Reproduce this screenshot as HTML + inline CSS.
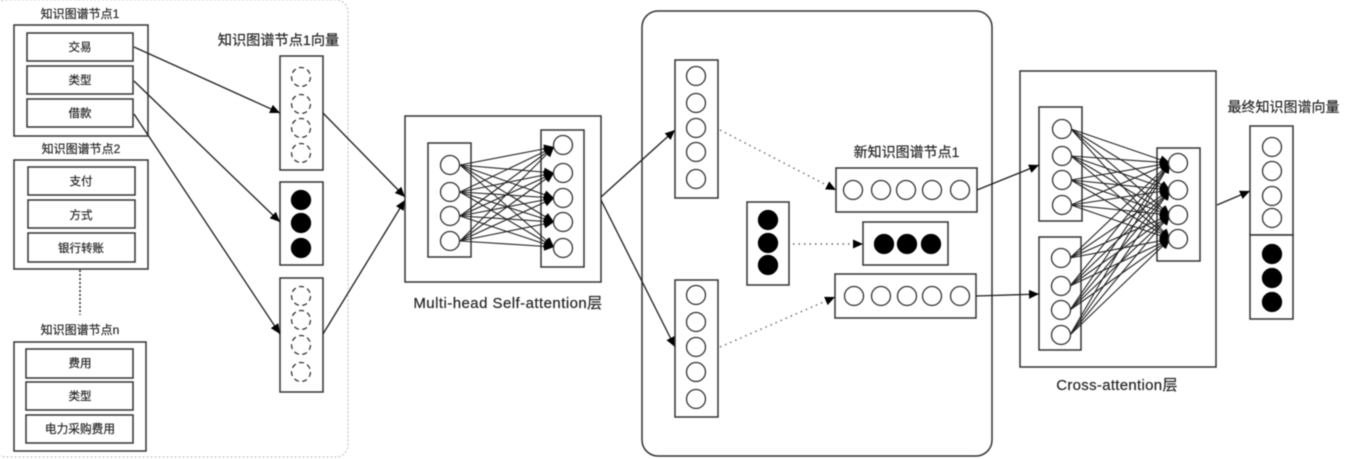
<!DOCTYPE html>
<html><head><meta charset="utf-8">
<style>
html,body{margin:0;padding:0;background:#fff;width:1347px;height:459px;overflow:hidden}
svg{display:block;filter:blur(.45px)}
text{font-family:"Liberation Sans","Noto Sans CJK SC",sans-serif;fill:#222;stroke:#333;stroke-width:.2;text-anchor:middle}
rect{fill:#fff;stroke:#333;stroke-width:1.5}
circle{fill:#fff;stroke:#333;stroke-width:1.3}
.d{stroke-dasharray:5 3.5}
.k{fill:#000;stroke:#000}
line{stroke:#222;stroke-width:1.35;marker-end:url(#a)}
.f line{stroke-width:1.1}
line.p{stroke:#666;stroke-dasharray:1.5 4;stroke-width:1.4}
</style></head><body>
<svg width="1347" height="459" viewBox="0 0 1347 459" xmlns="http://www.w3.org/2000/svg">
<defs><marker id="a" markerUnits="userSpaceOnUse" markerWidth="11" markerHeight="10" refX="10" refY="4.5" orient="auto"><path d="M0 0L10 4.5L0 9Z" fill="#000"/></marker></defs>

<rect x="-6" y="0" width="354" height="457" rx="12" style="stroke:#bbb;stroke-dasharray:2 2;stroke-width:1"/>
<rect x="642" y="11" width="350" height="445" rx="16"/>

<text x="80" y="18" font-size="12">知识图谱节点1</text>
<rect x="14" y="25" width="134" height="111"/>
<rect x="27" y="33" width="106" height="28"/><text x="80" y="51" font-size="11.5">交易</text>
<rect x="27" y="66" width="106" height="28"/><text x="80" y="84" font-size="11.5">类型</text>
<rect x="27" y="99" width="106" height="28"/><text x="80" y="117" font-size="11.5">借款</text>

<text x="81" y="153" font-size="12">知识图谱节点2</text>
<rect x="14" y="160" width="134" height="109"/>
<rect x="28" y="167" width="107" height="28"/><text x="81" y="185" font-size="11.5">支付</text>
<rect x="28" y="200" width="107" height="28"/><text x="81" y="219" font-size="11.5">方式</text>
<rect x="28" y="233" width="107" height="29"/><text x="81" y="252" font-size="11.5">银行转账</text>
<path d="M80 270V315" stroke="#333" stroke-width="1.6" stroke-dasharray="2 2" fill="none"/>

<text x="80" y="334" font-size="12">知识图谱节点n</text>
<rect x="14" y="342" width="132" height="109"/>
<rect x="26" y="349" width="107" height="29"/><text x="80" y="367" font-size="11.5">费用</text>
<rect x="26" y="382" width="107" height="28"/><text x="80" y="400" font-size="11.5">类型</text>
<rect x="26" y="415" width="107" height="28"/><text x="80" y="433" font-size="11.7">电力采购费用</text>

<text x="278.5" y="45" font-size="14.2">知识图谱节点1向量</text>
<rect x="280" y="56" width="43" height="114"/>
<circle class="d" cx="301" cy="77" r="9.5"/><circle class="d" cx="301" cy="104" r="9.5"/><circle class="d" cx="301" cy="128" r="9.5"/><circle class="d" cx="301" cy="153" r="9.5"/>
<rect x="280" y="182" width="43" height="83"/>
<circle class="k" cx="301" cy="200" r="9.5"/><circle class="k" cx="301" cy="223" r="9.5"/><circle class="k" cx="301" cy="248" r="9.5"/>
<rect x="280" y="278" width="43" height="114"/>
<circle class="d" cx="301" cy="296" r="9.5"/><circle class="d" cx="301" cy="320" r="9.5"/><circle class="d" cx="301" cy="345" r="9.5"/><circle class="d" cx="301" cy="372" r="9.5"/>

<line x1="134" y1="47" x2="280" y2="113"/>
<line x1="134" y1="81" x2="280" y2="222"/>
<line x1="134" y1="114" x2="280" y2="334"/>
<line x1="323" y1="113" x2="405" y2="197"/>
<line x1="323" y1="334" x2="405" y2="200"/>

<rect x="405" y="116" width="196" height="166"/>
<rect x="428" y="143" width="43" height="114"/>
<rect x="541" y="130" width="43" height="137"/>
<g class="f">
<line x1="460" y1="165" x2="554" y2="147"/><line x1="460" y1="165" x2="554" y2="173"/><line x1="460" y1="165" x2="554" y2="198"/><line x1="460" y1="165" x2="554" y2="222"/><line x1="460" y1="165" x2="554" y2="247"/>
<line x1="460" y1="192" x2="554" y2="147"/><line x1="460" y1="192" x2="554" y2="173"/><line x1="460" y1="192" x2="554" y2="198"/><line x1="460" y1="192" x2="554" y2="222"/><line x1="460" y1="192" x2="554" y2="247"/>
<line x1="460" y1="216" x2="554" y2="147"/><line x1="460" y1="216" x2="554" y2="173"/><line x1="460" y1="216" x2="554" y2="198"/><line x1="460" y1="216" x2="554" y2="222"/><line x1="460" y1="216" x2="554" y2="247"/>
<line x1="460" y1="241" x2="554" y2="147"/><line x1="460" y1="241" x2="554" y2="173"/><line x1="460" y1="241" x2="554" y2="198"/><line x1="460" y1="241" x2="554" y2="222"/><line x1="460" y1="241" x2="554" y2="247"/>
</g>
<circle cx="450" cy="165" r="9.5"/><circle cx="450" cy="192" r="9.5"/><circle cx="450" cy="216" r="9.5"/><circle cx="450" cy="241" r="9.5"/>
<circle cx="563" cy="145" r="9.5"/><circle cx="563" cy="173" r="9.5"/><circle cx="563" cy="198" r="9.5"/><circle cx="563" cy="222" r="9.5"/><circle cx="563" cy="248" r="9.5"/>
<text x="508" y="308" font-size="15" letter-spacing=".45">Multi-head Self-attention层</text>

<line x1="601" y1="197" x2="675" y2="130"/>
<line x1="601" y1="200" x2="675" y2="347"/>

<rect x="675" y="60" width="43" height="138"/>
<circle cx="696" cy="76" r="9.5"/><circle cx="696" cy="103" r="9.5"/><circle cx="696" cy="128" r="9.5"/><circle cx="696" cy="152" r="9.5"/><circle cx="696" cy="179" r="9.5"/>
<rect x="675" y="280" width="43" height="137"/>
<circle cx="696" cy="295" r="9.5"/><circle cx="696" cy="322" r="9.5"/><circle cx="696" cy="347" r="9.5"/><circle cx="696" cy="372" r="9.5"/><circle cx="696" cy="399" r="9.5"/>
<rect x="747" y="202" width="42" height="83"/>
<circle class="k" cx="768" cy="220" r="9.5"/><circle class="k" cx="768" cy="243" r="9.5"/><circle class="k" cx="768" cy="265" r="9.5"/>

<text x="906.5" y="157" font-size="14">新知识图谱节点1</text>
<rect x="836" y="168" width="141" height="44"/>
<circle cx="853" cy="190" r="9.5"/><circle cx="881" cy="190" r="9.5"/><circle cx="906" cy="190" r="9.5"/><circle cx="932" cy="190" r="9.5"/><circle cx="960" cy="190" r="9.5"/>
<rect x="863" y="222" width="85" height="43"/>
<circle class="k" cx="884" cy="244" r="9.5"/><circle class="k" cx="907" cy="244" r="9.5"/><circle class="k" cx="931" cy="244" r="9.5"/>
<rect x="835" y="274" width="141" height="44"/>
<circle cx="854" cy="296" r="9.5"/><circle cx="881" cy="296" r="9.5"/><circle cx="907" cy="296" r="9.5"/><circle cx="932" cy="296" r="9.5"/><circle cx="960" cy="296" r="9.5"/>

<line class="p" x1="720" y1="130" x2="836" y2="190"/>
<line class="p" x1="720" y1="347" x2="835" y2="297"/>
<line class="p" x1="793" y1="244" x2="863" y2="244"/>

<rect x="1020" y="71" width="196" height="296"/>
<rect x="1039" y="107" width="43" height="114"/>
<rect x="1039" y="237" width="42" height="113"/>
<rect x="1157" y="148" width="43" height="113"/>
<line x1="977" y1="190" x2="1039" y2="165"/>
<line x1="976" y1="296" x2="1039" y2="294"/>
<g class="f">
<line x1="1071" y1="129" x2="1170" y2="163"/><line x1="1071" y1="129" x2="1170" y2="190"/><line x1="1071" y1="129" x2="1170" y2="215"/><line x1="1071" y1="129" x2="1170" y2="239"/>
<line x1="1071" y1="156" x2="1170" y2="163"/><line x1="1071" y1="156" x2="1170" y2="190"/><line x1="1071" y1="156" x2="1170" y2="215"/><line x1="1071" y1="156" x2="1170" y2="239"/>
<line x1="1071" y1="180" x2="1170" y2="163"/><line x1="1071" y1="180" x2="1170" y2="190"/><line x1="1071" y1="180" x2="1170" y2="215"/><line x1="1071" y1="180" x2="1170" y2="239"/>
<line x1="1071" y1="205" x2="1170" y2="163"/><line x1="1071" y1="205" x2="1170" y2="190"/><line x1="1071" y1="205" x2="1170" y2="215"/><line x1="1071" y1="205" x2="1170" y2="239"/>
<line x1="1070" y1="258" x2="1170" y2="163"/><line x1="1070" y1="258" x2="1170" y2="190"/><line x1="1070" y1="258" x2="1170" y2="215"/><line x1="1070" y1="258" x2="1170" y2="239"/>
<line x1="1070" y1="286" x2="1170" y2="163"/><line x1="1070" y1="286" x2="1170" y2="190"/><line x1="1070" y1="286" x2="1170" y2="215"/><line x1="1070" y1="286" x2="1170" y2="239"/>
<line x1="1070" y1="310" x2="1170" y2="163"/><line x1="1070" y1="310" x2="1170" y2="190"/><line x1="1070" y1="310" x2="1170" y2="215"/><line x1="1070" y1="310" x2="1170" y2="239"/>
<line x1="1070" y1="335" x2="1170" y2="163"/><line x1="1070" y1="335" x2="1170" y2="190"/><line x1="1070" y1="335" x2="1170" y2="215"/><line x1="1070" y1="335" x2="1170" y2="239"/>
</g>
<circle cx="1062" cy="129" r="9.5"/><circle cx="1062" cy="156" r="9.5"/><circle cx="1062" cy="180" r="9.5"/><circle cx="1062" cy="205" r="9.5"/>
<circle cx="1061" cy="258" r="9.5"/><circle cx="1061" cy="286" r="9.5"/><circle cx="1061" cy="310" r="9.5"/><circle cx="1061" cy="335" r="9.5"/>
<circle cx="1178" cy="163" r="9.5"/><circle cx="1178" cy="190" r="9.5"/><circle cx="1178" cy="215" r="9.5"/><circle cx="1178" cy="239" r="9.5"/>
<text x="1117" y="390" font-size="15" letter-spacing=".3">Cross-attention层</text>

<line x1="1217" y1="205" x2="1250" y2="191"/>
<text x="1283.5" y="112" font-size="14">最终知识图谱向量</text>
<rect x="1250" y="126" width="43" height="109"/>
<rect x="1250" y="235" width="43" height="84"/>
<circle cx="1272" cy="147" r="9.5"/><circle cx="1272" cy="171" r="9.5"/><circle cx="1272" cy="196" r="9.5"/><circle cx="1272" cy="218" r="9.5"/>
<circle class="k" cx="1272" cy="254" r="9.5"/><circle class="k" cx="1272" cy="278" r="9.5"/><circle class="k" cx="1272" cy="302" r="9.5"/>
</svg>
</body></html>
